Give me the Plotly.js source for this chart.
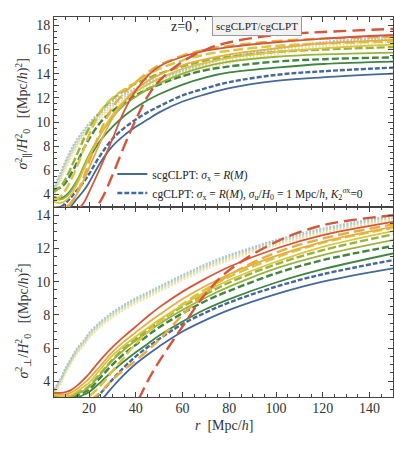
<!DOCTYPE html>
<html><head><meta charset="utf-8">
<script src="https://cdn.plot.ly/plotly-3.0.1.min.js"></script>
<style>html,body{margin:0;padding:0;background:#fff}#chart{width:394px;height:456px}</style>
</head><body><div id="chart"></div>
<script>
// separation r [Mpc/h]
const r = [5,8,10,12,15,18,20,25,30,35,40,45,50,60,70,80,100,120,150];

// ---- top panel: sigma_par^2 / H0^2 ----
const parBlueS  = [2.4,2.5,2.7,3.0,3.7,4.4,5.0,6.7,8.0,8.9,9.6,10.2,10.8,11.7,12.3,12.8,13.4,13.7,14.0];
const parBlueD  = [2.9,3.0,3.3,3.7,4.4,5.1,5.7,7.3,8.6,9.5,10.2,10.8,11.3,12.2,12.8,13.3,13.9,14.2,14.5];
const parGreenS = [3.8,3.7,3.9,4.3,5.2,6.3,7.0,8.5,9.6,10.5,11.2,11.8,12.3,13.1,13.7,14.1,14.5,14.8,15.0];
const parGreenD = [4.4,4.6,5.0,5.6,6.7,7.9,8.6,10.0,10.9,11.6,12.2,12.7,13.1,13.8,14.3,14.6,15.0,15.2,15.35];
const parYgS    = [3.6,3.6,3.8,4.2,5.2,6.5,7.3,9.0,10.4,11.4,12.1,12.7,13.2,14.0,14.6,15.0,15.4,15.6,15.75];
const parYgD    = [4.2,4.7,5.3,6.1,7.4,8.7,9.5,10.9,11.9,12.6,13.2,13.6,14.0,14.6,15.1,15.4,15.8,16.0,16.2];
const parYelS   = [3.4,3.3,3.5,3.9,4.9,6.2,7.1,9.0,10.6,11.7,12.5,13.1,13.6,14.4,14.9,15.3,15.8,16.1,16.4];
const parYelD   = [3.5,3.9,4.4,5.1,6.4,7.9,8.9,10.9,12.0,12.7,13.3,13.9,14.4,15.1,15.6,15.9,16.3,16.5,16.65];
const parOraS   = [3.0,2.9,3.0,3.3,4.1,5.3,6.2,8.4,10.3,11.7,12.7,13.4,13.9,14.7,15.2,15.6,16.1,16.5,16.8];
const parOraD   = [2.5,2.6,2.8,3.2,4.2,5.6,6.7,9.3,11.2,12.4,13.3,14.1,14.7,15.5,16.0,16.3,16.7,16.9,17.05];
const parRedS   = [1.5,1.8,2.0,2.3,2.7,3.4,4.2,6.3,8.6,10.9,12.6,13.8,14.6,15.4,15.9,16.2,16.6,16.9,17.2];
const parRedD   = [0.5,0.8,1.0,1.2,1.5,2.0,2.3,3.5,5.6,8.0,10.2,12.1,13.4,15.0,16.0,16.6,17.2,17.45,17.7];
const parD1 = [4.6,5.9,6.8,7.6,8.6,9.4,9.9,10.9,11.7,12.3,12.8,13.3,13.6,14.3,14.9,15.4,16.1,16.6,17.1];
const parD2 = [4.4,5.7,6.6,7.4,8.4,9.2,9.7,10.7,11.5,12.1,12.6,13.1,13.5,14.2,14.8,15.3,16.0,16.5,16.95];
const parD3 = [4.2,5.5,6.4,7.2,8.2,9.0,9.5,10.5,11.3,11.9,12.4,12.9,13.3,14.0,14.6,15.1,15.8,16.3,16.8];
const parD4 = [4.0,5.3,6.2,7.0,8.0,8.8,9.3,10.3,11.1,11.7,12.2,12.7,13.1,13.8,14.4,14.9,15.6,16.1,16.6];

// ---- bottom panel: sigma_perp^2 / H0^2 ----
const perBlueS  = [1.0,1.2,1.4,1.6,1.9,2.2,2.4,2.85,3.65,4.4,5.05,5.6,6.1,7.0,7.7,8.3,9.25,10.0,10.8];
const perBlueD  = [1.5,1.7,1.9,2.1,2.3,2.5,2.65,3.3,4.1,4.85,5.5,6.05,6.55,7.45,8.15,8.75,9.7,10.45,11.3];
const perGreenS = [3.0,2.85,2.8,2.85,3.0,3.2,3.35,3.95,4.6,5.2,5.75,6.25,6.75,7.6,8.35,8.95,9.95,10.75,11.7];
const perGreenD = [3.0,2.9,2.9,2.95,3.15,3.35,3.5,4.25,5.0,5.65,6.2,6.75,7.25,8.1,8.85,9.45,10.5,11.3,12.15];
const perYgS    = [3.1,3.0,3.0,3.05,3.25,3.45,3.65,4.45,5.25,5.9,6.45,6.95,7.45,8.3,9.05,9.7,10.8,11.6,12.5];
const perYgD    = [3.1,3.0,3.0,3.1,3.3,3.5,3.7,4.5,5.3,6.0,6.55,7.1,7.6,8.5,9.25,9.95,11.05,11.9,12.85];
const perYelS   = [3.2,3.1,3.1,3.15,3.4,3.7,3.9,4.75,5.55,6.15,6.7,7.2,7.7,8.6,9.4,10.1,11.2,12.1,13.05];
const perYelD   = [1.8,2.0,2.2,2.4,2.7,2.95,3.1,3.75,4.6,5.45,6.25,6.95,7.55,8.65,9.55,10.3,11.45,12.35,13.25];
const perOraS   = [3.25,3.2,3.2,3.3,3.55,3.9,4.15,4.95,5.75,6.4,6.95,7.5,8.0,8.95,9.75,10.45,11.55,12.4,13.3];
const perOraD   = [1.0,1.3,1.6,1.9,2.3,2.6,2.8,3.35,4.1,4.7,5.25,5.85,6.5,8.0,9.35,10.4,11.75,12.6,13.45];
const perRedS   = [3.3,3.3,3.35,3.45,3.75,4.15,4.45,5.3,6.05,6.7,7.3,7.9,8.45,9.4,10.2,10.9,12.0,12.8,13.6];
const perRedD   = [0.5,0.6,0.7,0.8,0.9,1.0,1.1,1.4,1.8,2.2,2.7,4.0,5.2,7.3,9.3,10.7,12.4,13.4,14.0];
const perD1 = [3.5,4.2,4.8,5.3,6.0,6.5,6.9,7.6,8.15,8.6,9.0,9.35,9.7,10.4,11.05,11.6,12.5,13.2,14.0];
const perD2 = [3.4,4.1,4.7,5.2,5.9,6.4,6.8,7.5,8.05,8.5,8.9,9.25,9.6,10.3,10.95,11.5,12.4,13.1,13.9];
const perD3 = [3.3,4.0,4.6,5.1,5.8,6.3,6.7,7.4,7.95,8.4,8.8,9.15,9.5,10.2,10.85,11.4,12.3,13.0,13.8];
const perD4 = [3.2,3.9,4.5,5.0,5.7,6.2,6.6,7.3,7.85,8.3,8.7,9.05,9.4,10.1,10.75,11.3,12.2,12.9,13.7];

const xTicks = [20,40,60,80,100,120,140];
const yTicksTop = [4,6,8,10,12,14,16,18];
const yTicksBot = [4,6,8,10,12,14];

const legendSolid = 'scgCLPT: <i>σ</i><sub>x</sub> = <i>R</i>(<i>M</i>)';
const legendDashed = 'cgCLPT: <i>σ</i><sub>x</sub> = <i>R</i>(<i>M</i>), <i>σ</i><sub>u</sub>/<i>H</i><sub>0</sub> = 1 Mpc/<i>h</i>, <i>K</i><sub>2</sub><sup><i>σ</i>x</sup>=0';

const C = {blue:'#44699a', green:'#3f8640', yg:'#98b43a', yel:'#dcc43e', ora:'#e8ad42', red:'#d4563b'};
const dashes = {blue:'5px,2px', green:'7px,3px', yg:'8px,3px', yel:'10px,4px', ora:'11px,5px', red:'13px,6px'};
const dataCols = ['#a9bfd4','#b9d0ab','#dde0a6','#f3e0ad'];

const traces = [];
function data(y, col, ax){
  traces.push({x:r, y:y, xaxis:ax[0], yaxis:ax[1], mode:'lines', line:{color:col, width:2.2, dash:'2px,1.5px', shape:'spline'}, opacity:0.9, showlegend:false, hoverinfo:'skip'});
}
function model(y, key, dashed, ax, leg){
  traces.push({x:r, y:y, xaxis:ax[0], yaxis:ax[1], mode:'lines',
    line:{color:C[key], width: dashed?2.4:1.8, dash: dashed?dashes[key]:'solid', shape:'spline', smoothing:1},
    name: leg || '', showlegend: !!leg, hoverinfo:'skip'});
}
const TOP = ['x2','y2'], BOT = ['x','y'];
[parD4,parD3,parD2,parD1].forEach((d,i)=>data(d, dataCols[3-i], TOP));
[perD4,perD3,perD2,perD1].forEach((d,i)=>data(d, dataCols[3-i], BOT));

model(parBlueS,'blue',false,TOP,legendSolid);
model(parBlueD,'blue',true,TOP,legendDashed);
model(parGreenS,'green',false,TOP); model(parGreenD,'green',true,TOP);
model(parYgS,'yg',false,TOP); model(parYgD,'yg',true,TOP);
model(parYelS,'yel',false,TOP); model(parYelD,'yel',true,TOP);
model(parOraS,'ora',false,TOP); model(parOraD,'ora',true,TOP);
model(parRedS,'red',false,TOP); model(parRedD,'red',true,TOP);

model(perBlueS,'blue',false,BOT); model(perBlueD,'blue',true,BOT);
model(perGreenS,'green',false,BOT); model(perGreenD,'green',true,BOT);
model(perYgS,'yg',false,BOT); model(perYgD,'yg',true,BOT);
model(perYelS,'yel',false,BOT); model(perYelD,'yel',true,BOT);
model(perOraS,'ora',false,BOT); model(perOraD,'ora',true,BOT);
model(perRedS,'red',false,BOT); model(perRedD,'red',true,BOT);

const serif = 'Liberation Serif, Times New Roman, serif';
const axBase = {showline:true, linecolor:'#444', linewidth:1, mirror:'allticks', ticks:'inside', ticklen:5, tickcolor:'#444',
  showgrid:false, zeroline:false, tickfont:{family:serif, size:14, color:'#333'}};

const layout = {
  width:394, height:456, margin:{l:54, r:1, t:17, b:59},
  paper_bgcolor:'#fff', plot_bgcolor:'#fff',
  font:{family:serif, color:'#333'},
  xaxis: Object.assign({}, axBase, {domain:[0,1], anchor:'y', range:[5,150], tickmode:'array', tickvals:xTicks, ticklabelstandoff:-2,
    minor:{dtick:5, ticks:'inside', ticklen:3, tickcolor:'#444'}}),
  xaxis2: Object.assign({}, axBase, {domain:[0,1], anchor:'y2', matches:'x', range:[5,150], tickmode:'array', tickvals:xTicks, showticklabels:false,
    minor:{dtick:5, ticks:'inside', ticklen:3, tickcolor:'#444'}}),
  yaxis: Object.assign({}, axBase, {domain:[0,0.5], anchor:'x', range:[3.05,14.5], tickmode:'array', tickvals:yTicksBot,
    minor:{dtick:0.5, ticks:'inside', ticklen:3, tickcolor:'#444'}}),
  yaxis2: Object.assign({}, axBase, {domain:[0.5,1], anchor:'x2', range:[2.97,18.69], tickmode:'array', tickvals:yTicksTop,
    minor:{dtick:0.5, ticks:'inside', ticklen:3, tickcolor:'#444'}}),
  showlegend:true,
  legend:{x:0.172, y:0.625, xanchor:'left', yanchor:'top', bgcolor:'rgba(0,0,0,0)', borderwidth:0,
    font:{family:serif, size:11.5, color:'#222'}, tracegroupgap:0, itemwidth:30},
  annotations:[
    {text:'z=0 ,', xref:'paper', yref:'paper', x:0.386, y:0.976, xanchor:'center', yanchor:'middle', showarrow:false,
      font:{family:serif, size:14, color:'#222'}},
    {text:'scgCLPT/cgCLPT', xref:'paper', yref:'paper', x:0.599, y:0.976, xanchor:'center', yanchor:'middle', showarrow:false,
      font:{family:serif, size:11, color:'#222'}, bgcolor:'#f2f2f2', bordercolor:'#9a9a9a', borderwidth:1, borderpad:3},
    {text:'<i>σ</i><sup>2</sup><sub>∥</sub>/<i>H</i><sup>2</sup><sub>0</sub>   [(Mpc/<i>h</i>)<sup>2</sup>]', xref:'paper', yref:'paper',
      x:-0.09, y:0.745, xanchor:'center', yanchor:'middle', textangle:-90, showarrow:false, font:{family:serif, size:14, color:'#333'}},
    {text:'<i>σ</i><sup>2</sup><sub>⊥</sub>/<i>H</i><sup>2</sup><sub>0</sub>   [(Mpc/<i>h</i>)<sup>2</sup>]', xref:'paper', yref:'paper',
      x:-0.09, y:0.2, xanchor:'center', yanchor:'middle', textangle:-90, showarrow:false, font:{family:serif, size:14, color:'#333'}},
    {text:'<i>r</i>  [Mpc/<i>h</i>]', xref:'paper', yref:'paper', x:0.5, y:-0.074, xanchor:'center', yanchor:'middle', showarrow:false,
      font:{family:serif, size:14, color:'#333'}}
  ]
};
Plotly.newPlot('chart', traces, layout, {staticPlot:true, displayModeBar:false});
</script></body></html>
